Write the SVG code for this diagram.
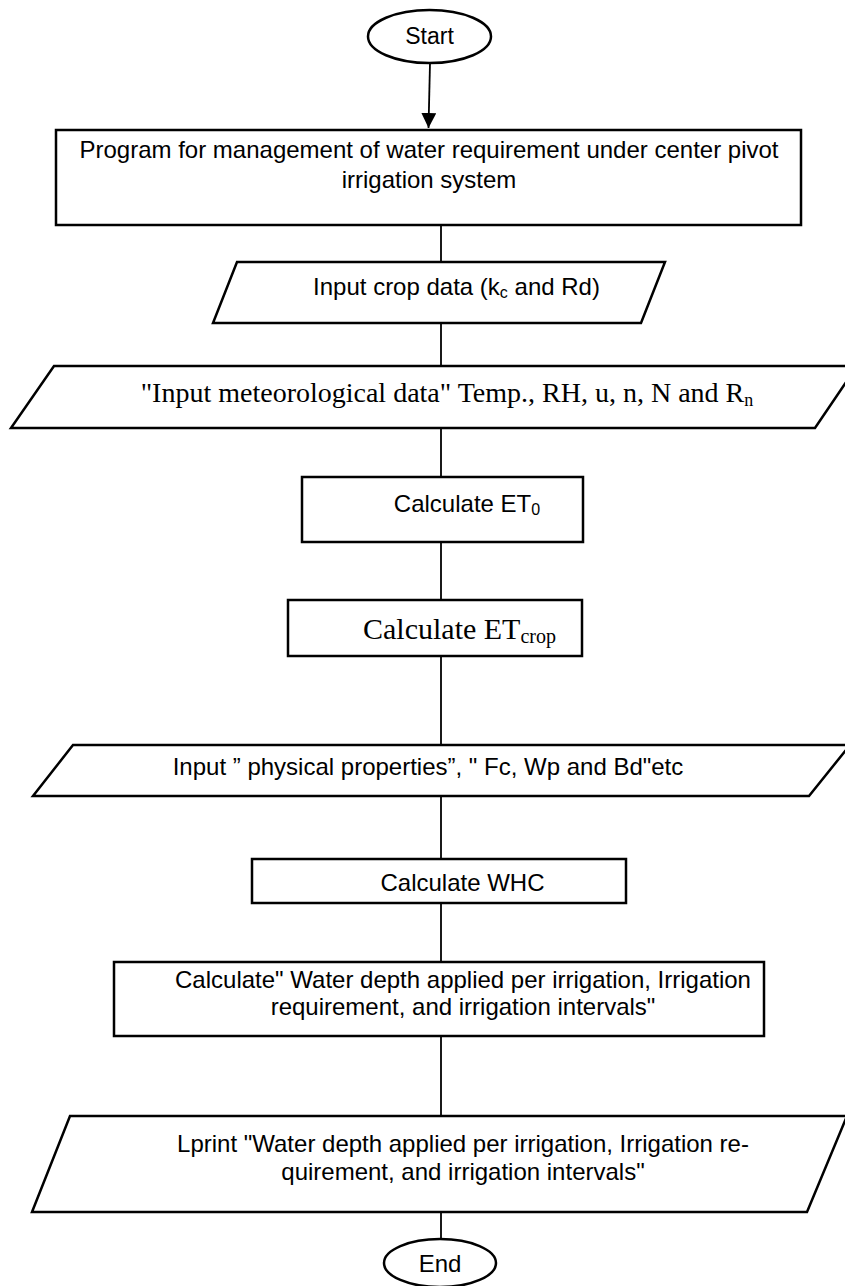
<svg xmlns="http://www.w3.org/2000/svg" width="845" height="1286" viewBox="0 0 845 1286">
  <defs>
    <style>
      .shape { fill: #ffffff; stroke: #000000; stroke-width: 2.5; }
      .conn { fill: none; stroke: #000000; stroke-width: 1.8; }
      .sans { font-family: "Liberation Sans", Arial, sans-serif; font-size: 24px; fill: #000000; }
      .serif { font-family: "Liberation Serif", "Times New Roman", serif; fill: #000000; }
    </style>
    <marker id="arrow" markerUnits="userSpaceOnUse" markerWidth="16" markerHeight="15" refX="15" refY="7.5" orient="auto">
      <path d="M0,0 L15,7.5 L0,15 Z" fill="#000000"/>
    </marker>
  </defs>
  <rect x="0" y="0" width="845" height="1286" fill="#ffffff"/>

  <g id="connectors">
    <line class="conn" x1="430" y1="63" x2="428.5" y2="128" marker-end="url(#arrow)"/>
    <line class="conn" x1="441" y1="225" x2="441" y2="262"/>
    <line class="conn" x1="441" y1="323" x2="441" y2="366"/>
    <line class="conn" x1="441" y1="428" x2="441" y2="477"/>
    <line class="conn" x1="441" y1="542" x2="441" y2="600"/>
    <line class="conn" x1="441" y1="656" x2="441" y2="745"/>
    <line class="conn" x1="441" y1="796" x2="441" y2="859"/>
    <line class="conn" x1="441" y1="903" x2="441" y2="962"/>
    <line class="conn" x1="441" y1="1036" x2="441" y2="1116"/>
    <line class="conn" x1="441" y1="1212" x2="441" y2="1239"/>
  </g>

  <g id="start">
    <ellipse class="shape" cx="429.5" cy="36.5" rx="61.5" ry="26.5"/>
    <text class="sans" x="429.5" y="43.5" text-anchor="middle" style="font-size:23px">Start</text>
  </g>

  <g id="program">
    <rect class="shape" x="56" y="130" width="745" height="95"/>
    <text class="sans" x="429" y="158" text-anchor="middle">Program for management of water requirement under center pivot</text>
    <text class="sans" x="429" y="188" text-anchor="middle">irrigation system</text>
  </g>

  <g id="input-crop">
    <polygon class="shape" points="237,262 665,262 641,323 213,323"/>
    <text class="sans" x="456.5" y="295" text-anchor="middle">Input crop data (k<tspan dy="3" style="font-size:16px">c</tspan><tspan dy="-3"> and Rd)</tspan></text>
  </g>

  <g id="input-meteo">
    <polygon class="shape" points="54,366 857,366 815,428 11,428"/>
    <text class="serif" x="447" y="402" text-anchor="middle" style="font-size:28px">"Input meteorological data" Temp., RH, u, n, N and R<tspan dy="4" style="font-size:18px">n</tspan></text>
  </g>

  <g id="calc-et0">
    <rect class="shape" x="302" y="477" width="281" height="65"/>
    <text class="sans" x="467" y="512" text-anchor="middle">Calculate ET<tspan dy="3" style="font-size:16px">0</tspan></text>
  </g>

  <g id="calc-etcrop">
    <rect class="shape" x="288" y="600" width="294" height="56"/>
    <text class="serif" x="459.5" y="639" text-anchor="middle" style="font-size:30px">Calculate ET<tspan dy="4" style="font-size:20px">crop</tspan></text>
  </g>

  <g id="input-physical">
    <polygon class="shape" points="73,745 850,745 809,796 33,796"/>
    <text class="sans" x="428" y="775" text-anchor="middle">Input ” physical properties”, " Fc, Wp and Bd"etc</text>
  </g>

  <g id="calc-whc">
    <rect class="shape" x="252" y="859" width="374" height="44"/>
    <text class="sans" x="462.5" y="891" text-anchor="middle">Calculate WHC</text>
  </g>

  <g id="calc-water">
    <rect class="shape" x="114" y="962" width="650" height="74"/>
    <text class="sans" x="463" y="988" text-anchor="middle">Calculate" Water depth applied per irrigation, Irrigation</text>
    <text class="sans" x="463" y="1015" text-anchor="middle">requirement, and irrigation intervals"</text>
  </g>

  <g id="lprint">
    <polygon class="shape" points="70,1116 847,1116 807,1212 32,1212"/>
    <text class="sans" x="463" y="1152" text-anchor="middle">Lprint "Water depth applied per irrigation, Irrigation re-</text>
    <text class="sans" x="463" y="1180" text-anchor="middle">quirement, and irrigation intervals"</text>
  </g>

  <g id="end">
    <ellipse class="shape" cx="440" cy="1263" rx="56" ry="24"/>
    <text class="sans" x="440" y="1271.5" text-anchor="middle">End</text>
  </g>
</svg>
